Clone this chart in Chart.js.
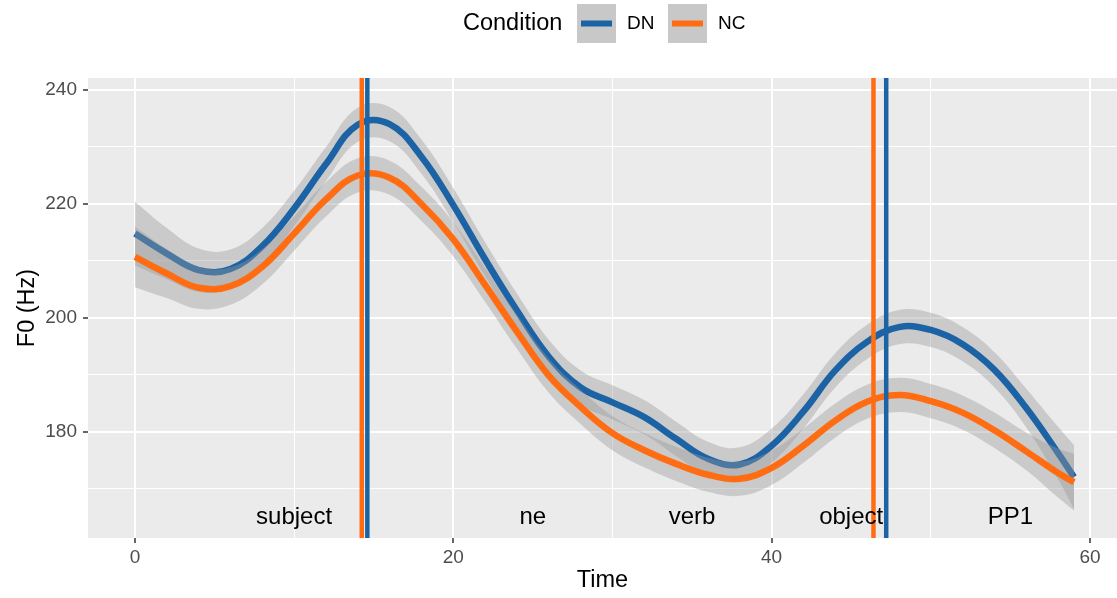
<!DOCTYPE html>
<html>
<head>
<meta charset="utf-8">
<script src="https://cdn.jsdelivr.net/npm/chart.js@4/dist/chart.umd.min.js"></script>
<style>
  html, body { margin: 0; padding: 0; background: #ffffff; }
  #wrap { width: 1117px; height: 598px; position: relative; }
</style>
</head>
<body>
<div id="wrap"><canvas id="f0Chart"></canvas></div>
<script>
// smoothed F0 contours
const time = [0, 2, 4, 6, 8, 10, 12, 14, 16, 18, 20, 22, 24, 26, 28, 30, 32, 34, 36, 38, 40, 42, 44, 46, 48, 50, 52, 54, 56, 58, 59];
const dnF0 = [214.8, 211.3, 208.4, 208.6, 212.6, 219.2, 227.0, 233.9, 234.0, 228.3, 219.8, 210.3, 201.3, 193.2, 187.8, 185.2, 182.6, 178.8, 175.3, 174.3, 177.6, 183.6, 190.8, 195.8, 198.4, 197.9, 195.4, 190.9, 184.2, 176.3, 172.1];
const ncF0 = [210.7, 207.8, 205.3, 205.6, 209.0, 214.8, 220.8, 225.0, 224.6, 220.0, 213.8, 205.8, 197.6, 189.9, 184.4, 179.8, 176.8, 174.4, 172.5, 171.8, 173.7, 177.6, 182.0, 185.3, 186.5, 185.4, 183.4, 180.3, 176.6, 172.8, 171.2];
// half width of the grey confidence bands
const dnSE = [5.6, 4.5, 3.8, 3.4, 3.2, 3.1, 3.0, 3.0, 3.0, 3.0, 3.0, 3.0, 3.0, 3.0, 3.0, 3.0, 3.0, 3.0, 3.0, 3.0, 3.0, 3.0, 3.0, 3.0, 3.0, 3.0, 3.0, 3.1, 3.4, 4.6, 5.6];
const ncSE = [5.3, 4.3, 3.7, 3.3, 3.1, 3.0, 3.0, 3.0, 3.0, 3.0, 3.0, 3.0, 3.0, 3.0, 3.0, 3.0, 3.0, 3.0, 3.0, 3.0, 3.0, 3.0, 3.0, 3.0, 3.0, 3.0, 3.0, 3.1, 3.3, 4.3, 5.0];

// word boundaries (vertical lines)
const boundaryNC = [14.25, 46.4];
const boundaryDN = [14.6, 47.2];

// region labels along the bottom
const regionLabels = ['subject', 'ne', 'verb', 'object', 'PP1'];
const regionCenters = [10, 25, 35, 45, 55];
const regionLabelY = 165;

const xTicks = [0, 10, 20, 30, 40, 50, 60];
const yTicks = [170, 180, 190, 200, 210, 220, 230, 240];
const xRange = [-2.95, 61.7];
const yRange = [161.4, 242.1];

const BLUE = '#1c63a6';
const ORANGE = '#ff6c12';
const BAND = 'rgba(153,153,153,0.4)';
const FONT = '"Liberation Sans", Arial, Helvetica, sans-serif';

function pts(vals) { return time.map((t, i) => ({ x: t, y: vals[i] })); }
function vline(x) { return [{ x: x, y: yRange[0] }, { x: x, y: yRange[1] }]; }

const bandStyle = { borderWidth: 0, pointRadius: 0, backgroundColor: BAND, tension: 0.4 };
const curveStyle = { borderWidth: 6.5, pointRadius: 0, fill: false, tension: 0.4, borderCapStyle: 'butt' };
const vStyle = { borderWidth: 4.5, pointRadius: 0, fill: false, tension: 0 };

const ggplotPlugin = {
    id: 'ggplotLook',
    beforeDraw(chart) {
        const { ctx, chartArea: a } = chart;
        ctx.save();
        ctx.fillStyle = '#ebebeb';
        ctx.fillRect(a.left, a.top, a.right - a.left, a.bottom - a.top);
        ctx.restore();
    },
    afterDraw(chart) {
        const { ctx, scales } = chart;
        ctx.save();
        // region labels
        ctx.fillStyle = '#000000';
        ctx.font = '24px ' + FONT;
        ctx.textAlign = 'center';
        ctx.textBaseline = 'middle';
        regionLabels.forEach((lab, i) => {
            ctx.fillText(lab, scales.x.getPixelForValue(regionCenters[i]), scales.y.getPixelForValue(regionLabelY));
        });

        // legend
        ctx.textAlign = 'left';
        ctx.font = '23.5px ' + FONT;
        ctx.fillText('Condition', 463, 24);
        const keys = [{ x: 577, color: BLUE, label: 'DN', tx: 627 }, { x: 668, color: ORANGE, label: 'NC', tx: 718 }];
        keys.forEach(k => {
            ctx.fillStyle = '#c8c8c8';
            ctx.fillRect(k.x, 4, 39, 39);
            ctx.strokeStyle = k.color;
            ctx.lineWidth = 6;
            ctx.beginPath();
            ctx.moveTo(k.x + 4, 23.5);
            ctx.lineTo(k.x + 35, 23.5);
            ctx.stroke();
            ctx.fillStyle = '#000000';
            ctx.font = '19px ' + FONT;
            ctx.fillText(k.label, k.tx, 24);
        });
        ctx.restore();
    }
};

function gridWidth(c) { return c.tick && c.tick.value % 20 === 0 ? 2 : 1; }
function tickCol(c) { return c.tick && c.tick.value % 20 === 0 ? '#333333' : 'rgba(0,0,0,0)'; }

function initChart() {
    const ctx = document.getElementById('f0Chart').getContext('2d');
    new Chart(ctx, {
        type: 'line',
        data: {
            datasets: [
                Object.assign({ label: 'DN lo', data: pts(dnF0.map((v, i) => v - dnSE[i])), fill: false, order: 10 }, bandStyle),
                Object.assign({ label: 'DN hi', data: pts(dnF0.map((v, i) => v + dnSE[i])), fill: 0, order: 9 }, bandStyle),
                Object.assign({ label: 'DN', data: pts(dnF0), borderColor: BLUE, order: 8 }, curveStyle),
                Object.assign({ label: 'NC lo', data: pts(ncF0.map((v, i) => v - ncSE[i])), fill: false, order: 7 }, bandStyle),
                Object.assign({ label: 'NC hi', data: pts(ncF0.map((v, i) => v + ncSE[i])), fill: 3, order: 6 }, bandStyle),
                Object.assign({ label: 'NC', data: pts(ncF0), borderColor: ORANGE, order: 5 }, curveStyle),
                Object.assign({ label: 'NC b1', data: vline(boundaryNC[0]), borderColor: ORANGE, order: 4 }, vStyle),
                Object.assign({ label: 'DN b1', data: vline(boundaryDN[0]), borderColor: BLUE, order: 3 }, vStyle),
                Object.assign({ label: 'NC b2', data: vline(boundaryNC[1]), borderColor: ORANGE, order: 2 }, vStyle),
                Object.assign({ label: 'DN b2', data: vline(boundaryDN[1]), borderColor: BLUE, order: 1 }, vStyle)
            ]
        },
        options: {
            responsive: true,
            maintainAspectRatio: false,
            animation: false,
            layout: { padding: { top: 78, left: 0, right: 0, bottom: 0 } },
            plugins: {
                legend: { display: false },
                tooltip: { enabled: false },
                filler: { propagate: false }
            },
            scales: {
                x: {
                    type: 'linear',
                    min: xRange[0],
                    max: xRange[1],
                    afterBuildTicks: s => { s.ticks = xTicks.map(v => ({ value: v })); },
                    afterFit: s => { s.height = 60; },
                    border: { display: false },
                    grid: { color: '#ffffff', lineWidth: gridWidth, tickLength: 5, tickColor: tickCol, tickWidth: 1.5 },
                    ticks: {
                        color: '#4d4d4d',
                        font: { family: FONT, size: 19 },
                        padding: 3,
                        maxRotation: 0,
                        autoSkip: false,
                        callback: v => (v % 20 === 0 ? v : '')
                    },
                    title: { display: true, text: 'Time', color: '#000000', font: { family: FONT, size: 23.5 }, padding: { top: 0, bottom: 3 } }
                },
                y: {
                    type: 'linear',
                    min: yRange[0],
                    max: yRange[1],
                    afterBuildTicks: s => { s.ticks = yTicks.map(v => ({ value: v })); },
                    afterFit: s => { s.width = 88; },
                    border: { display: false },
                    grid: { color: '#ffffff', lineWidth: gridWidth, tickLength: 5, tickColor: tickCol, tickWidth: 1.5 },
                    ticks: {
                        color: '#4d4d4d',
                        font: { family: FONT, size: 19 },
                        padding: 6,
                        autoSkip: false,
                        callback: v => (v % 20 === 0 ? v : '')
                    },
                    title: { display: true, text: 'F0 (Hz)', color: '#000000', font: { family: FONT, size: 23.5 }, padding: { top: 13, bottom: 0 } }
                }
            }
        },
        plugins: [ggplotPlugin]
    });
}

window.addEventListener('load', () => {
    initChart();
});
</script>
</body>
</html>
